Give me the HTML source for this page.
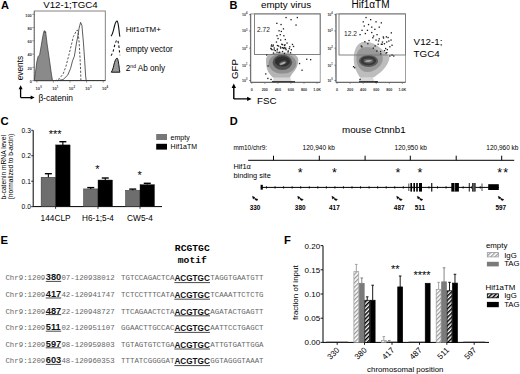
<!DOCTYPE html>
<html><head><meta charset="utf-8"><style>
html,body{margin:0;padding:0;background:#fff;}
svg{display:block;}
</style></head><body>
<svg width="520" height="374" viewBox="0 0 520 374">
<defs>
<pattern id="hatchL" patternUnits="userSpaceOnUse" width="3" height="3" patternTransform="rotate(45)">
<rect width="3" height="3" fill="#fff"/><rect width="1.3" height="3" fill="#999"/></pattern>
<pattern id="hatchD" patternUnits="userSpaceOnUse" width="3" height="3" patternTransform="rotate(45)">
<rect width="3" height="3" fill="#fff"/><rect width="1.5" height="3" fill="#000"/></pattern>
<filter id="bl" x="-20%" y="-20%" width="140%" height="140%"><feGaussianBlur stdDeviation="0.75"/></filter>
<radialGradient id="rg1" cx="0.52" cy="0.42" r="0.55">
<stop offset="0" stop-color="#888"/><stop offset="0.12" stop-color="#333"/><stop offset="0.35" stop-color="#555"/><stop offset="0.7" stop-color="#999"/><stop offset="1" stop-color="#ddd"/></radialGradient>
<radialGradient id="rg2" cx="0.42" cy="0.48" r="0.6">
<stop offset="0" stop-color="#888"/><stop offset="0.12" stop-color="#333"/><stop offset="0.35" stop-color="#555"/><stop offset="0.7" stop-color="#aaa"/><stop offset="1" stop-color="#ddd"/></radialGradient>
</defs>
<rect width="520" height="374" fill="#fff"/>
<text x="0.9" y="8.9" font-size="11" font-weight="bold" fill="#000" text-anchor="start" style='font-family:"Liberation Sans", sans-serif' >A</text>
<text x="43.2" y="7.9" font-size="9.7" font-weight="normal" fill="#000" text-anchor="start" style='font-family:"Liberation Sans", sans-serif' >V12-1;TGC4</text>
<rect x="34.3" y="11" width="71" height="69.6" fill="none" stroke="#777" stroke-width="0.9"/>
<line x1="34.3" y1="80.6" x2="105.3" y2="80.6" stroke="#333" stroke-width="1" />
<line x1="34.3" y1="11" x2="34.3" y2="80.6" stroke="#777" stroke-width="0.9" />
<line x1="32.3" y1="80.6" x2="34.3" y2="80.6" stroke="#555" stroke-width="0.6" />
<text x="31.8" y="82.89999999999999" font-size="3.9" font-weight="bold" fill="#333" text-anchor="end" style='font-family:"Liberation Sans", sans-serif' >0</text>
<line x1="32.3" y1="67.33999999999999" x2="34.3" y2="67.33999999999999" stroke="#555" stroke-width="0.6" />
<text x="31.8" y="69.63999999999999" font-size="3.9" font-weight="bold" fill="#333" text-anchor="end" style='font-family:"Liberation Sans", sans-serif' >20</text>
<line x1="32.3" y1="54.08" x2="34.3" y2="54.08" stroke="#555" stroke-width="0.6" />
<text x="31.8" y="56.379999999999995" font-size="3.9" font-weight="bold" fill="#333" text-anchor="end" style='font-family:"Liberation Sans", sans-serif' >40</text>
<line x1="32.3" y1="40.81999999999999" x2="34.3" y2="40.81999999999999" stroke="#555" stroke-width="0.6" />
<text x="31.8" y="43.11999999999999" font-size="3.9" font-weight="bold" fill="#333" text-anchor="end" style='font-family:"Liberation Sans", sans-serif' >60</text>
<line x1="32.3" y1="27.559999999999995" x2="34.3" y2="27.559999999999995" stroke="#555" stroke-width="0.6" />
<text x="31.8" y="29.859999999999996" font-size="3.9" font-weight="bold" fill="#333" text-anchor="end" style='font-family:"Liberation Sans", sans-serif' >80</text>
<line x1="32.3" y1="14.299999999999997" x2="34.3" y2="14.299999999999997" stroke="#555" stroke-width="0.6" />
<text x="31.8" y="16.599999999999998" font-size="3.9" font-weight="bold" fill="#333" text-anchor="end" style='font-family:"Liberation Sans", sans-serif' >100</text>
<line x1="33.4" y1="80.6" x2="34.3" y2="80.6" stroke="#888" stroke-width="0.4" />
<line x1="33.4" y1="77.948" x2="34.3" y2="77.948" stroke="#888" stroke-width="0.4" />
<line x1="33.4" y1="75.29599999999999" x2="34.3" y2="75.29599999999999" stroke="#888" stroke-width="0.4" />
<line x1="33.4" y1="72.64399999999999" x2="34.3" y2="72.64399999999999" stroke="#888" stroke-width="0.4" />
<line x1="33.4" y1="69.99199999999999" x2="34.3" y2="69.99199999999999" stroke="#888" stroke-width="0.4" />
<line x1="33.4" y1="67.33999999999999" x2="34.3" y2="67.33999999999999" stroke="#888" stroke-width="0.4" />
<line x1="33.4" y1="64.68799999999999" x2="34.3" y2="64.68799999999999" stroke="#888" stroke-width="0.4" />
<line x1="33.4" y1="62.035999999999994" x2="34.3" y2="62.035999999999994" stroke="#888" stroke-width="0.4" />
<line x1="33.4" y1="59.38399999999999" x2="34.3" y2="59.38399999999999" stroke="#888" stroke-width="0.4" />
<line x1="33.4" y1="56.73199999999999" x2="34.3" y2="56.73199999999999" stroke="#888" stroke-width="0.4" />
<line x1="33.4" y1="54.07999999999999" x2="34.3" y2="54.07999999999999" stroke="#888" stroke-width="0.4" />
<line x1="33.4" y1="51.428" x2="34.3" y2="51.428" stroke="#888" stroke-width="0.4" />
<line x1="33.4" y1="48.775999999999996" x2="34.3" y2="48.775999999999996" stroke="#888" stroke-width="0.4" />
<line x1="33.4" y1="46.123999999999995" x2="34.3" y2="46.123999999999995" stroke="#888" stroke-width="0.4" />
<line x1="33.4" y1="43.471999999999994" x2="34.3" y2="43.471999999999994" stroke="#888" stroke-width="0.4" />
<line x1="33.4" y1="40.81999999999999" x2="34.3" y2="40.81999999999999" stroke="#888" stroke-width="0.4" />
<line x1="33.4" y1="38.16799999999999" x2="34.3" y2="38.16799999999999" stroke="#888" stroke-width="0.4" />
<line x1="33.4" y1="35.51599999999999" x2="34.3" y2="35.51599999999999" stroke="#888" stroke-width="0.4" />
<line x1="33.4" y1="32.86399999999999" x2="34.3" y2="32.86399999999999" stroke="#888" stroke-width="0.4" />
<line x1="33.4" y1="30.21199999999999" x2="34.3" y2="30.21199999999999" stroke="#888" stroke-width="0.4" />
<line x1="33.4" y1="27.559999999999988" x2="34.3" y2="27.559999999999988" stroke="#888" stroke-width="0.4" />
<line x1="33.4" y1="24.907999999999994" x2="34.3" y2="24.907999999999994" stroke="#888" stroke-width="0.4" />
<line x1="33.4" y1="22.255999999999993" x2="34.3" y2="22.255999999999993" stroke="#888" stroke-width="0.4" />
<line x1="33.4" y1="19.603999999999992" x2="34.3" y2="19.603999999999992" stroke="#888" stroke-width="0.4" />
<line x1="33.4" y1="16.95199999999999" x2="34.3" y2="16.95199999999999" stroke="#888" stroke-width="0.4" />
<line x1="33.4" y1="14.299999999999997" x2="34.3" y2="14.299999999999997" stroke="#888" stroke-width="0.4" />
<line x1="36.8" y1="80.6" x2="36.8" y2="82.6" stroke="#555" stroke-width="0.6" />
<text x="37.8" y="90.0" font-size="4.0" font-weight="bold" fill="#333" text-anchor="middle" style='font-family:"Liberation Sans", sans-serif' >10</text>
<text x="40.199999999999996" y="87.9" font-size="2.8" font-weight="bold" fill="#333" text-anchor="start" style='font-family:"Liberation Sans", sans-serif' >0</text>
<line x1="53.4" y1="80.6" x2="53.4" y2="82.6" stroke="#555" stroke-width="0.6" />
<text x="54.4" y="90.0" font-size="4.0" font-weight="bold" fill="#333" text-anchor="middle" style='font-family:"Liberation Sans", sans-serif' >10</text>
<text x="56.8" y="87.9" font-size="2.8" font-weight="bold" fill="#333" text-anchor="start" style='font-family:"Liberation Sans", sans-serif' >1</text>
<line x1="70.0" y1="80.6" x2="70.0" y2="82.6" stroke="#555" stroke-width="0.6" />
<text x="71.0" y="90.0" font-size="4.0" font-weight="bold" fill="#333" text-anchor="middle" style='font-family:"Liberation Sans", sans-serif' >10</text>
<text x="73.4" y="87.9" font-size="2.8" font-weight="bold" fill="#333" text-anchor="start" style='font-family:"Liberation Sans", sans-serif' >2</text>
<line x1="86.6" y1="80.6" x2="86.6" y2="82.6" stroke="#555" stroke-width="0.6" />
<text x="87.6" y="90.0" font-size="4.0" font-weight="bold" fill="#333" text-anchor="middle" style='font-family:"Liberation Sans", sans-serif' >10</text>
<text x="90.0" y="87.9" font-size="2.8" font-weight="bold" fill="#333" text-anchor="start" style='font-family:"Liberation Sans", sans-serif' >3</text>
<line x1="103.2" y1="80.6" x2="103.2" y2="82.6" stroke="#555" stroke-width="0.6" />
<text x="104.2" y="90.0" font-size="4.0" font-weight="bold" fill="#333" text-anchor="middle" style='font-family:"Liberation Sans", sans-serif' >10</text>
<text x="106.60000000000001" y="87.9" font-size="2.8" font-weight="bold" fill="#333" text-anchor="start" style='font-family:"Liberation Sans", sans-serif' >4</text>
<polygon points="34.3,80.6 35.5,72.0 36.8,62.0 38.1,56.5 39.6,55.0 41.0,47.0 42.5,38.0 43.6,32.5 44.3,30.6 45.1,33.0 45.6,31.4 47.1,44.0 49.3,59.0 51.4,74.0 52.5,80.6" fill="#8a8a8a" stroke="#333" stroke-width="0.7"/>
<polyline points="54.6,80.6 55.6,80.6 59.4,78.7 63.1,74.0 65.9,66.5 68.8,55.3 71.6,44.0 73.4,36.5 75.9,31.8 77.2,29.9 78.1,32.7 79.1,42.1 80.0,57.1 80.6,70.2 80.9,80.6" fill="none" stroke="#444" stroke-width="0.9" stroke-dasharray="2.2,1.6"/>
<polyline points="56.7,80.6 57.5,80.6 63.1,79.6 67.8,75.0 70.6,68.4 72.5,60.9 74.4,56.2 76.3,44.0 78.1,34.6 79.1,28.1 80.6,22.4 81.9,25.3 83.4,42.1 84.7,60.9 85.6,75.9 86.2,80.6" fill="none" stroke="#333" stroke-width="0.8"/>
<path d="M111,36.2 C113,34 113.5,30 114.5,26 C115.3,23 116.3,21 117.1,21 C118,21.5 118.4,25 119,30 C119.3,33.5 119.6,35.5 119.9,36.7" fill="none" stroke="#111" stroke-width="1.1"/>
<path d="M111,55.7 C113,53 113.5,50 114.5,46 C115.3,43 116.3,40 117.3,40 C118.2,40.5 118.6,44 119.1,48 C119.4,51 119.6,53 119.9,55.2" fill="none" stroke="#111" stroke-width="1.1" stroke-dasharray="2.4,2.2"/>
<path d="M111.3,72.2 C113,70 113.5,66 114.5,62.5 C115.3,60 116.3,58.1 117.1,58.1 C118,58.6 118.4,62 119,66 C119.3,69 119.6,71 119.9,72.2 Z" fill="#999" stroke="#111" stroke-width="1"/>
<text x="125.8" y="32.1" font-size="8.0" font-weight="normal" fill="#000" text-anchor="start" style='font-family:"Liberation Sans", sans-serif' >Hif1αTM+</text>
<text x="125.8" y="51.5" font-size="8.2" font-weight="normal" fill="#000" text-anchor="start" style='font-family:"Liberation Sans", sans-serif' >empty vector</text>
<text x="125.8" y="70.8" font-size="8.2" font-weight="normal" fill="#000" text-anchor="start" style='font-family:"Liberation Sans", sans-serif' >2<tspan font-size="5" dy="-3">nd</tspan><tspan dy="3"> Ab only</tspan></text>
<text x="0" y="0" font-size="8.3" font-weight="normal" fill="#000" text-anchor="start" style='font-family:"Liberation Sans", sans-serif' transform="translate(22.6,80.3) rotate(-90)">events</text>
<path d="M20.6,97.6 L20.6,88.5 M20.6,97.6 L31.5,97.6" stroke="#000" stroke-width="1.3" fill="none"/>
<path d="M20.6,85.3 L18.6,89.3 L22.6,89.3 Z" fill="#000"/>
<path d="M34.6,97.6 L30.6,95.6 L30.6,99.6 Z" fill="#000"/>
<text x="38.4" y="100.9" font-size="8.4" font-weight="normal" fill="#000" text-anchor="start" style='font-family:"Liberation Sans", sans-serif' >β-catenin</text>
<text x="229.5" y="9.3" font-size="11" font-weight="bold" fill="#000" text-anchor="start" style='font-family:"Liberation Sans", sans-serif' >B</text>
<text x="261.0" y="8.3" font-size="9.8" font-weight="normal" fill="#000" text-anchor="start" style='font-family:"Liberation Sans", sans-serif' >empty virus</text>
<text x="351.5" y="8.3" font-size="10.0" font-weight="normal" fill="#000" text-anchor="start" style='font-family:"Liberation Sans", sans-serif' >Hif1αTM</text>
<rect x="250.7" y="13.9" width="69.5" height="68.39999999999999" fill="none" stroke="#888" stroke-width="0.8"/>
<line x1="250.7" y1="82.3" x2="320.2" y2="82.3" stroke="#444" stroke-width="0.8" />
<line x1="250.7" y1="13.9" x2="250.7" y2="82.3" stroke="#555" stroke-width="0.8" />

<path d="M273,76 L290,76 C290,79 291.5,81 293,82 L272,82 C273.5,80 274,78 273,76 Z" fill="#d8d8d8"/>
<g filter="url(#bl)">
<path d="M266,60 C266,54.5 272,52.6 282,52.6 C292,52.6 298.3,55 298.3,60 C298.3,65 296,70 292,74 C291,75.5 290.5,76.5 290,77.5 L273,77.5 C270,75 267,71 266.4,66 C266.2,64 266,62 266,60 Z" fill="#b4b4b4"/>
<ellipse cx="282.4" cy="63.6" rx="13.9" ry="10.0" fill="#8f8f8f"/>
<ellipse cx="282.4" cy="62.4" rx="9.8" ry="7.6" fill="#505050"/>
<ellipse cx="282.5" cy="61.4" rx="7.6" ry="5.2" fill="#2e2e2e"/>
<ellipse cx="282.7" cy="63.0" rx="4.2" ry="2.0" fill="#555" transform="rotate(-22 282.7 63.0)"/>
<ellipse cx="282.7" cy="63.3" rx="3.0" ry="0.9" fill="#b0b0b0" transform="rotate(-22 282.7 63.3)"/>
</g>
<line x1="272" y1="81.7" x2="295" y2="81.7" stroke="#222" stroke-width="1.1"/>
<rect x="254.5" y="13.9" width="65.69999999999999" height="40.6" fill="none" stroke="#777" stroke-width="0.9"/>
<line x1="249.1" y1="80.5" x2="250.7" y2="80.5" stroke="#555" stroke-width="0.7" />
<text x="242.1" y="81.9" font-size="3.5" font-weight="bold" fill="#333" text-anchor="start" style='font-family:"Liberation Sans", sans-serif' >10</text>
<text x="245.89999999999998" y="80.1" font-size="2.6" font-weight="bold" fill="#333" text-anchor="start" style='font-family:"Liberation Sans", sans-serif' >0</text>
<line x1="249.79999999999998" y1="75.8942410663411" x2="250.7" y2="75.8942410663411" stroke="#777" stroke-width="0.5" />
<line x1="249.79999999999998" y1="73.20004480278917" x2="250.7" y2="73.20004480278917" stroke="#777" stroke-width="0.5" />
<line x1="249.79999999999998" y1="71.28848213268218" x2="250.7" y2="71.28848213268218" stroke="#777" stroke-width="0.5" />
<line x1="249.79999999999998" y1="69.80575893365891" x2="250.7" y2="69.80575893365891" stroke="#777" stroke-width="0.5" />
<line x1="249.79999999999998" y1="68.59428586913026" x2="250.7" y2="68.59428586913026" stroke="#777" stroke-width="0.5" />
<line x1="249.79999999999998" y1="67.56999998778187" x2="250.7" y2="67.56999998778187" stroke="#777" stroke-width="0.5" />
<line x1="249.79999999999998" y1="66.68272319902327" x2="250.7" y2="66.68272319902327" stroke="#777" stroke-width="0.5" />
<line x1="249.79999999999998" y1="65.90008960557833" x2="250.7" y2="65.90008960557833" stroke="#777" stroke-width="0.5" />
<line x1="249.1" y1="65.2" x2="250.7" y2="65.2" stroke="#555" stroke-width="0.7" />
<text x="242.1" y="66.60000000000001" font-size="3.5" font-weight="bold" fill="#333" text-anchor="start" style='font-family:"Liberation Sans", sans-serif' >10</text>
<text x="245.89999999999998" y="64.8" font-size="2.6" font-weight="bold" fill="#333" text-anchor="start" style='font-family:"Liberation Sans", sans-serif' >1</text>
<line x1="249.79999999999998" y1="60.052387074145926" x2="250.7" y2="60.052387074145926" stroke="#777" stroke-width="0.5" />
<line x1="249.79999999999998" y1="57.04122654429378" x2="250.7" y2="57.04122654429378" stroke="#777" stroke-width="0.5" />
<line x1="249.79999999999998" y1="54.90477414829184" x2="250.7" y2="54.90477414829184" stroke="#777" stroke-width="0.5" />
<line x1="249.79999999999998" y1="53.24761292585408" x2="250.7" y2="53.24761292585408" stroke="#777" stroke-width="0.5" />
<line x1="249.79999999999998" y1="51.893613618439694" x2="250.7" y2="51.893613618439694" stroke="#777" stroke-width="0.5" />
<line x1="249.79999999999998" y1="50.748823515756214" x2="250.7" y2="50.748823515756214" stroke="#777" stroke-width="0.5" />
<line x1="249.79999999999998" y1="49.757161222437766" x2="250.7" y2="49.757161222437766" stroke="#777" stroke-width="0.5" />
<line x1="249.79999999999998" y1="48.882453088587546" x2="250.7" y2="48.882453088587546" stroke="#777" stroke-width="0.5" />
<line x1="249.1" y1="48.1" x2="250.7" y2="48.1" stroke="#555" stroke-width="0.7" />
<text x="242.1" y="49.5" font-size="3.5" font-weight="bold" fill="#333" text-anchor="start" style='font-family:"Liberation Sans", sans-serif' >10</text>
<text x="245.89999999999998" y="47.7" font-size="2.6" font-weight="bold" fill="#333" text-anchor="start" style='font-family:"Liberation Sans", sans-serif' >2</text>
<line x1="249.79999999999998" y1="42.92228407457952" x2="250.7" y2="42.92228407457952" stroke="#777" stroke-width="0.5" />
<line x1="249.79999999999998" y1="39.89351441882181" x2="250.7" y2="39.89351441882181" stroke="#777" stroke-width="0.5" />
<line x1="249.79999999999998" y1="37.74456814915905" x2="250.7" y2="37.74456814915905" stroke="#777" stroke-width="0.5" />
<line x1="249.79999999999998" y1="36.07771592542048" x2="250.7" y2="36.07771592542048" stroke="#777" stroke-width="0.5" />
<line x1="249.79999999999998" y1="34.71579849340133" x2="250.7" y2="34.71579849340133" stroke="#777" stroke-width="0.5" />
<line x1="249.79999999999998" y1="33.56431371175478" x2="250.7" y2="33.56431371175478" stroke="#777" stroke-width="0.5" />
<line x1="249.79999999999998" y1="32.56685222373857" x2="250.7" y2="32.56685222373857" stroke="#777" stroke-width="0.5" />
<line x1="249.79999999999998" y1="31.68702883764361" x2="250.7" y2="31.68702883764361" stroke="#777" stroke-width="0.5" />
<line x1="249.1" y1="30.9" x2="250.7" y2="30.9" stroke="#555" stroke-width="0.7" />
<text x="242.1" y="32.3" font-size="3.5" font-weight="bold" fill="#333" text-anchor="start" style='font-family:"Liberation Sans", sans-serif' >10</text>
<text x="245.89999999999998" y="30.5" font-size="2.6" font-weight="bold" fill="#333" text-anchor="start" style='font-family:"Liberation Sans", sans-serif' >3</text>
<line x1="249.79999999999998" y1="25.993211070677106" x2="250.7" y2="25.993211070677106" stroke="#777" stroke-width="0.5" />
<line x1="249.79999999999998" y1="23.1229235480695" x2="250.7" y2="23.1229235480695" stroke="#777" stroke-width="0.5" />
<line x1="249.79999999999998" y1="21.086422141354213" x2="250.7" y2="21.086422141354213" stroke="#777" stroke-width="0.5" />
<line x1="249.79999999999998" y1="19.506788929322894" x2="250.7" y2="19.506788929322894" stroke="#777" stroke-width="0.5" />
<line x1="249.79999999999998" y1="18.216134618746608" x2="250.7" y2="18.216134618746608" stroke="#777" stroke-width="0.5" />
<line x1="249.79999999999998" y1="17.124901947767615" x2="250.7" y2="17.124901947767615" stroke="#777" stroke-width="0.5" />
<line x1="249.79999999999998" y1="16.17963321203132" x2="250.7" y2="16.17963321203132" stroke="#777" stroke-width="0.5" />
<line x1="249.79999999999998" y1="15.345847096139005" x2="250.7" y2="15.345847096139005" stroke="#777" stroke-width="0.5" />
<line x1="249.1" y1="14.6" x2="250.7" y2="14.6" stroke="#555" stroke-width="0.7" />
<text x="242.1" y="16.0" font-size="3.5" font-weight="bold" fill="#333" text-anchor="start" style='font-family:"Liberation Sans", sans-serif' >10</text>
<text x="245.89999999999998" y="14.2" font-size="2.6" font-weight="bold" fill="#333" text-anchor="start" style='font-family:"Liberation Sans", sans-serif' >4</text>
<line x1="251.79999999999998" y1="82.3" x2="251.79999999999998" y2="84" stroke="#666" stroke-width="0.6" />
<line x1="254.41" y1="82.3" x2="254.41" y2="83.1" stroke="#888" stroke-width="0.4" />
<line x1="257.02" y1="82.3" x2="257.02" y2="83.1" stroke="#888" stroke-width="0.4" />
<line x1="259.63" y1="82.3" x2="259.63" y2="83.1" stroke="#888" stroke-width="0.4" />
<line x1="262.24" y1="82.3" x2="262.24" y2="83.1" stroke="#888" stroke-width="0.4" />
<text x="251.79999999999998" y="91.4" font-size="3.7" font-weight="bold" fill="#333" text-anchor="middle" style='font-family:"Liberation Sans", sans-serif' >0</text>
<line x1="264.84999999999997" y1="82.3" x2="264.84999999999997" y2="84" stroke="#666" stroke-width="0.6" />
<line x1="267.46" y1="82.3" x2="267.46" y2="83.1" stroke="#888" stroke-width="0.4" />
<line x1="270.07" y1="82.3" x2="270.07" y2="83.1" stroke="#888" stroke-width="0.4" />
<line x1="272.67999999999995" y1="82.3" x2="272.67999999999995" y2="83.1" stroke="#888" stroke-width="0.4" />
<line x1="275.28999999999996" y1="82.3" x2="275.28999999999996" y2="83.1" stroke="#888" stroke-width="0.4" />
<text x="264.84999999999997" y="91.4" font-size="3.7" font-weight="bold" fill="#333" text-anchor="middle" style='font-family:"Liberation Sans", sans-serif' >200</text>
<line x1="277.9" y1="82.3" x2="277.9" y2="84" stroke="#666" stroke-width="0.6" />
<line x1="280.51" y1="82.3" x2="280.51" y2="83.1" stroke="#888" stroke-width="0.4" />
<line x1="283.12" y1="82.3" x2="283.12" y2="83.1" stroke="#888" stroke-width="0.4" />
<line x1="285.72999999999996" y1="82.3" x2="285.72999999999996" y2="83.1" stroke="#888" stroke-width="0.4" />
<line x1="288.34" y1="82.3" x2="288.34" y2="83.1" stroke="#888" stroke-width="0.4" />
<text x="277.9" y="91.4" font-size="3.7" font-weight="bold" fill="#333" text-anchor="middle" style='font-family:"Liberation Sans", sans-serif' >400</text>
<line x1="290.95" y1="82.3" x2="290.95" y2="84" stroke="#666" stroke-width="0.6" />
<line x1="293.56" y1="82.3" x2="293.56" y2="83.1" stroke="#888" stroke-width="0.4" />
<line x1="296.17" y1="82.3" x2="296.17" y2="83.1" stroke="#888" stroke-width="0.4" />
<line x1="298.78" y1="82.3" x2="298.78" y2="83.1" stroke="#888" stroke-width="0.4" />
<line x1="301.39" y1="82.3" x2="301.39" y2="83.1" stroke="#888" stroke-width="0.4" />
<text x="290.95" y="91.4" font-size="3.7" font-weight="bold" fill="#333" text-anchor="middle" style='font-family:"Liberation Sans", sans-serif' >600</text>
<line x1="304.0" y1="82.3" x2="304.0" y2="84" stroke="#666" stroke-width="0.6" />
<line x1="306.61" y1="82.3" x2="306.61" y2="83.1" stroke="#888" stroke-width="0.4" />
<line x1="309.22" y1="82.3" x2="309.22" y2="83.1" stroke="#888" stroke-width="0.4" />
<line x1="311.83" y1="82.3" x2="311.83" y2="83.1" stroke="#888" stroke-width="0.4" />
<line x1="314.44" y1="82.3" x2="314.44" y2="83.1" stroke="#888" stroke-width="0.4" />
<text x="304.0" y="91.4" font-size="3.7" font-weight="bold" fill="#333" text-anchor="middle" style='font-family:"Liberation Sans", sans-serif' >800</text>
<line x1="317.04999999999995" y1="82.3" x2="317.04999999999995" y2="84" stroke="#666" stroke-width="0.6" />
<text x="317.04999999999995" y="91.4" font-size="3.7" font-weight="bold" fill="#333" text-anchor="middle" style='font-family:"Liberation Sans", sans-serif' >1.0K</text>
<text x="257.1" y="31.9" font-size="6.6" font-weight="normal" fill="#222" text-anchor="start" style='font-family:"Liberation Sans", sans-serif' >2.72</text>
<rect x="336.0" y="13.9" width="69.5" height="68.39999999999999" fill="none" stroke="#888" stroke-width="0.8"/>
<line x1="336.0" y1="82.3" x2="405.5" y2="82.3" stroke="#444" stroke-width="0.8" />
<line x1="336.0" y1="13.9" x2="336.0" y2="82.3" stroke="#555" stroke-width="0.8" />

<path d="M360,76 L373,76 C373,79 374,81 375,82 L358,82 C359.5,80 360.5,78 360,76 Z" fill="#d8d8d8"/>
<g filter="url(#bl)">
<path d="M353.8,60 C353.5,50 357,42.5 364,41.8 C370,41.5 376,44 381,48.5 C385,52 388,55 389.5,57.5 C389,62 386.5,66 383,70 C380,73 376.5,75.5 374,77.2 L359.8,77.2 C356.5,72 354,67 353.8,60 Z" fill="#bdbdbd"/>
<path d="M356.5,56 C357,50 361,47 367,47 C373,47 378,50 382,55 C384,58 382.5,63 379.5,66.5 C376,70 372,72 367,72 C361,72 357,66 356.5,60 Z" fill="#999"/>
<ellipse cx="368.5" cy="61" rx="9.6" ry="6.0" fill="#5a5a5a"/>
<ellipse cx="368.3" cy="60.7" rx="7.8" ry="4.5" fill="#383838"/>
<ellipse cx="368.5" cy="61" rx="5.0" ry="2.4" fill="#5e5e5e"/>
<ellipse cx="368.5" cy="61" rx="3.4" ry="0.9" fill="#a8a8a8" transform="rotate(-8 368.5 61)"/>
</g>
<line x1="359" y1="81.7" x2="378" y2="81.7" stroke="#222" stroke-width="1.1"/>
<rect x="339.0" y="13.9" width="66.5" height="41.1" fill="none" stroke="#777" stroke-width="0.9"/>
<line x1="334.4" y1="80.5" x2="336.0" y2="80.5" stroke="#555" stroke-width="0.7" />
<text x="327.4" y="81.9" font-size="3.5" font-weight="bold" fill="#333" text-anchor="start" style='font-family:"Liberation Sans", sans-serif' >10</text>
<text x="331.2" y="80.1" font-size="2.6" font-weight="bold" fill="#333" text-anchor="start" style='font-family:"Liberation Sans", sans-serif' >0</text>
<line x1="335.1" y1="75.8942410663411" x2="336.0" y2="75.8942410663411" stroke="#777" stroke-width="0.5" />
<line x1="335.1" y1="73.20004480278917" x2="336.0" y2="73.20004480278917" stroke="#777" stroke-width="0.5" />
<line x1="335.1" y1="71.28848213268218" x2="336.0" y2="71.28848213268218" stroke="#777" stroke-width="0.5" />
<line x1="335.1" y1="69.80575893365891" x2="336.0" y2="69.80575893365891" stroke="#777" stroke-width="0.5" />
<line x1="335.1" y1="68.59428586913026" x2="336.0" y2="68.59428586913026" stroke="#777" stroke-width="0.5" />
<line x1="335.1" y1="67.56999998778187" x2="336.0" y2="67.56999998778187" stroke="#777" stroke-width="0.5" />
<line x1="335.1" y1="66.68272319902327" x2="336.0" y2="66.68272319902327" stroke="#777" stroke-width="0.5" />
<line x1="335.1" y1="65.90008960557833" x2="336.0" y2="65.90008960557833" stroke="#777" stroke-width="0.5" />
<line x1="334.4" y1="65.2" x2="336.0" y2="65.2" stroke="#555" stroke-width="0.7" />
<text x="327.4" y="66.60000000000001" font-size="3.5" font-weight="bold" fill="#333" text-anchor="start" style='font-family:"Liberation Sans", sans-serif' >10</text>
<text x="331.2" y="64.8" font-size="2.6" font-weight="bold" fill="#333" text-anchor="start" style='font-family:"Liberation Sans", sans-serif' >1</text>
<line x1="335.1" y1="60.052387074145926" x2="336.0" y2="60.052387074145926" stroke="#777" stroke-width="0.5" />
<line x1="335.1" y1="57.04122654429378" x2="336.0" y2="57.04122654429378" stroke="#777" stroke-width="0.5" />
<line x1="335.1" y1="54.90477414829184" x2="336.0" y2="54.90477414829184" stroke="#777" stroke-width="0.5" />
<line x1="335.1" y1="53.24761292585408" x2="336.0" y2="53.24761292585408" stroke="#777" stroke-width="0.5" />
<line x1="335.1" y1="51.893613618439694" x2="336.0" y2="51.893613618439694" stroke="#777" stroke-width="0.5" />
<line x1="335.1" y1="50.748823515756214" x2="336.0" y2="50.748823515756214" stroke="#777" stroke-width="0.5" />
<line x1="335.1" y1="49.757161222437766" x2="336.0" y2="49.757161222437766" stroke="#777" stroke-width="0.5" />
<line x1="335.1" y1="48.882453088587546" x2="336.0" y2="48.882453088587546" stroke="#777" stroke-width="0.5" />
<line x1="334.4" y1="48.1" x2="336.0" y2="48.1" stroke="#555" stroke-width="0.7" />
<text x="327.4" y="49.5" font-size="3.5" font-weight="bold" fill="#333" text-anchor="start" style='font-family:"Liberation Sans", sans-serif' >10</text>
<text x="331.2" y="47.7" font-size="2.6" font-weight="bold" fill="#333" text-anchor="start" style='font-family:"Liberation Sans", sans-serif' >2</text>
<line x1="335.1" y1="42.92228407457952" x2="336.0" y2="42.92228407457952" stroke="#777" stroke-width="0.5" />
<line x1="335.1" y1="39.89351441882181" x2="336.0" y2="39.89351441882181" stroke="#777" stroke-width="0.5" />
<line x1="335.1" y1="37.74456814915905" x2="336.0" y2="37.74456814915905" stroke="#777" stroke-width="0.5" />
<line x1="335.1" y1="36.07771592542048" x2="336.0" y2="36.07771592542048" stroke="#777" stroke-width="0.5" />
<line x1="335.1" y1="34.71579849340133" x2="336.0" y2="34.71579849340133" stroke="#777" stroke-width="0.5" />
<line x1="335.1" y1="33.56431371175478" x2="336.0" y2="33.56431371175478" stroke="#777" stroke-width="0.5" />
<line x1="335.1" y1="32.56685222373857" x2="336.0" y2="32.56685222373857" stroke="#777" stroke-width="0.5" />
<line x1="335.1" y1="31.68702883764361" x2="336.0" y2="31.68702883764361" stroke="#777" stroke-width="0.5" />
<line x1="334.4" y1="30.9" x2="336.0" y2="30.9" stroke="#555" stroke-width="0.7" />
<text x="327.4" y="32.3" font-size="3.5" font-weight="bold" fill="#333" text-anchor="start" style='font-family:"Liberation Sans", sans-serif' >10</text>
<text x="331.2" y="30.5" font-size="2.6" font-weight="bold" fill="#333" text-anchor="start" style='font-family:"Liberation Sans", sans-serif' >3</text>
<line x1="335.1" y1="25.993211070677106" x2="336.0" y2="25.993211070677106" stroke="#777" stroke-width="0.5" />
<line x1="335.1" y1="23.1229235480695" x2="336.0" y2="23.1229235480695" stroke="#777" stroke-width="0.5" />
<line x1="335.1" y1="21.086422141354213" x2="336.0" y2="21.086422141354213" stroke="#777" stroke-width="0.5" />
<line x1="335.1" y1="19.506788929322894" x2="336.0" y2="19.506788929322894" stroke="#777" stroke-width="0.5" />
<line x1="335.1" y1="18.216134618746608" x2="336.0" y2="18.216134618746608" stroke="#777" stroke-width="0.5" />
<line x1="335.1" y1="17.124901947767615" x2="336.0" y2="17.124901947767615" stroke="#777" stroke-width="0.5" />
<line x1="335.1" y1="16.17963321203132" x2="336.0" y2="16.17963321203132" stroke="#777" stroke-width="0.5" />
<line x1="335.1" y1="15.345847096139005" x2="336.0" y2="15.345847096139005" stroke="#777" stroke-width="0.5" />
<line x1="334.4" y1="14.6" x2="336.0" y2="14.6" stroke="#555" stroke-width="0.7" />
<text x="327.4" y="16.0" font-size="3.5" font-weight="bold" fill="#333" text-anchor="start" style='font-family:"Liberation Sans", sans-serif' >10</text>
<text x="331.2" y="14.2" font-size="2.6" font-weight="bold" fill="#333" text-anchor="start" style='font-family:"Liberation Sans", sans-serif' >4</text>
<line x1="337.1" y1="82.3" x2="337.1" y2="84" stroke="#666" stroke-width="0.6" />
<line x1="339.71000000000004" y1="82.3" x2="339.71000000000004" y2="83.1" stroke="#888" stroke-width="0.4" />
<line x1="342.32000000000005" y1="82.3" x2="342.32000000000005" y2="83.1" stroke="#888" stroke-width="0.4" />
<line x1="344.93" y1="82.3" x2="344.93" y2="83.1" stroke="#888" stroke-width="0.4" />
<line x1="347.54" y1="82.3" x2="347.54" y2="83.1" stroke="#888" stroke-width="0.4" />
<text x="337.1" y="91.4" font-size="3.7" font-weight="bold" fill="#333" text-anchor="middle" style='font-family:"Liberation Sans", sans-serif' >0</text>
<line x1="350.15000000000003" y1="82.3" x2="350.15000000000003" y2="84" stroke="#666" stroke-width="0.6" />
<line x1="352.76000000000005" y1="82.3" x2="352.76000000000005" y2="83.1" stroke="#888" stroke-width="0.4" />
<line x1="355.37000000000006" y1="82.3" x2="355.37000000000006" y2="83.1" stroke="#888" stroke-width="0.4" />
<line x1="357.98" y1="82.3" x2="357.98" y2="83.1" stroke="#888" stroke-width="0.4" />
<line x1="360.59000000000003" y1="82.3" x2="360.59000000000003" y2="83.1" stroke="#888" stroke-width="0.4" />
<text x="350.15000000000003" y="91.4" font-size="3.7" font-weight="bold" fill="#333" text-anchor="middle" style='font-family:"Liberation Sans", sans-serif' >200</text>
<line x1="363.20000000000005" y1="82.3" x2="363.20000000000005" y2="84" stroke="#666" stroke-width="0.6" />
<line x1="365.81000000000006" y1="82.3" x2="365.81000000000006" y2="83.1" stroke="#888" stroke-width="0.4" />
<line x1="368.4200000000001" y1="82.3" x2="368.4200000000001" y2="83.1" stroke="#888" stroke-width="0.4" />
<line x1="371.03000000000003" y1="82.3" x2="371.03000000000003" y2="83.1" stroke="#888" stroke-width="0.4" />
<line x1="373.64000000000004" y1="82.3" x2="373.64000000000004" y2="83.1" stroke="#888" stroke-width="0.4" />
<text x="363.20000000000005" y="91.4" font-size="3.7" font-weight="bold" fill="#333" text-anchor="middle" style='font-family:"Liberation Sans", sans-serif' >400</text>
<line x1="376.25" y1="82.3" x2="376.25" y2="84" stroke="#666" stroke-width="0.6" />
<line x1="378.86" y1="82.3" x2="378.86" y2="83.1" stroke="#888" stroke-width="0.4" />
<line x1="381.47" y1="82.3" x2="381.47" y2="83.1" stroke="#888" stroke-width="0.4" />
<line x1="384.08" y1="82.3" x2="384.08" y2="83.1" stroke="#888" stroke-width="0.4" />
<line x1="386.69" y1="82.3" x2="386.69" y2="83.1" stroke="#888" stroke-width="0.4" />
<text x="376.25" y="91.4" font-size="3.7" font-weight="bold" fill="#333" text-anchor="middle" style='font-family:"Liberation Sans", sans-serif' >600</text>
<line x1="389.3" y1="82.3" x2="389.3" y2="84" stroke="#666" stroke-width="0.6" />
<line x1="391.91" y1="82.3" x2="391.91" y2="83.1" stroke="#888" stroke-width="0.4" />
<line x1="394.52000000000004" y1="82.3" x2="394.52000000000004" y2="83.1" stroke="#888" stroke-width="0.4" />
<line x1="397.13" y1="82.3" x2="397.13" y2="83.1" stroke="#888" stroke-width="0.4" />
<line x1="399.74" y1="82.3" x2="399.74" y2="83.1" stroke="#888" stroke-width="0.4" />
<text x="389.3" y="91.4" font-size="3.7" font-weight="bold" fill="#333" text-anchor="middle" style='font-family:"Liberation Sans", sans-serif' >800</text>
<line x1="402.35" y1="82.3" x2="402.35" y2="84" stroke="#666" stroke-width="0.6" />
<text x="402.35" y="91.4" font-size="3.7" font-weight="bold" fill="#333" text-anchor="middle" style='font-family:"Liberation Sans", sans-serif' >1.0K</text>
<text x="344.1" y="36.0" font-size="6.6" font-weight="normal" fill="#222" text-anchor="start" style='font-family:"Liberation Sans", sans-serif' >12.2</text>
<rect x="285.4" y="16.9" width="1.3" height="1.3" fill="#1a1a1a"/>
<rect x="290.4" y="19.0" width="1.3" height="1.3" fill="#1a1a1a"/>
<rect x="296.7" y="16.9" width="1.3" height="1.3" fill="#1a1a1a"/>
<rect x="295.4" y="24.4" width="1.3" height="1.3" fill="#1a1a1a"/>
<rect x="276.2" y="22.7" width="1.3" height="1.3" fill="#1a1a1a"/>
<rect x="280.4" y="23.9" width="1.3" height="1.3" fill="#1a1a1a"/>
<rect x="278.4" y="30.1" width="1.3" height="1.3" fill="#1a1a1a"/>
<rect x="280.7" y="30.8" width="1.3" height="1.3" fill="#1a1a1a"/>
<rect x="282.8" y="28.2" width="1.3" height="1.3" fill="#1a1a1a"/>
<rect x="276.4" y="35.1" width="1.3" height="1.3" fill="#1a1a1a"/>
<rect x="279.6" y="34.0" width="1.3" height="1.3" fill="#1a1a1a"/>
<rect x="283.2" y="35.1" width="1.3" height="1.3" fill="#1a1a1a"/>
<rect x="284.7" y="38.9" width="1.3" height="1.3" fill="#1a1a1a"/>
<rect x="280.0" y="39.4" width="1.3" height="1.3" fill="#1a1a1a"/>
<rect x="275.8" y="41.4" width="1.3" height="1.3" fill="#1a1a1a"/>
<rect x="286.4" y="42.4" width="1.3" height="1.3" fill="#1a1a1a"/>
<rect x="281.1" y="43.6" width="1.3" height="1.3" fill="#1a1a1a"/>
<rect x="277.9" y="45.4" width="1.3" height="1.3" fill="#1a1a1a"/>
<rect x="273.6" y="47.4" width="1.3" height="1.3" fill="#1a1a1a"/>
<rect x="276.8" y="48.4" width="1.3" height="1.3" fill="#1a1a1a"/>
<rect x="280.0" y="47.4" width="1.3" height="1.3" fill="#1a1a1a"/>
<rect x="283.2" y="47.9" width="1.3" height="1.3" fill="#1a1a1a"/>
<rect x="285.4" y="49.0" width="1.3" height="1.3" fill="#1a1a1a"/>
<rect x="288.6" y="47.9" width="1.3" height="1.3" fill="#1a1a1a"/>
<rect x="290.7" y="49.1" width="1.3" height="1.3" fill="#1a1a1a"/>
<rect x="271.4" y="49.0" width="1.3" height="1.3" fill="#1a1a1a"/>
<rect x="274.7" y="50.0" width="1.3" height="1.3" fill="#1a1a1a"/>
<rect x="292.9" y="45.8" width="1.3" height="1.3" fill="#1a1a1a"/>
<rect x="281.9" y="50.9" width="1.3" height="1.3" fill="#1a1a1a"/>
<rect x="278.4" y="51.9" width="1.3" height="1.3" fill="#1a1a1a"/>
<rect x="287.4" y="51.4" width="1.3" height="1.3" fill="#1a1a1a"/>
<rect x="272.9" y="52.4" width="1.3" height="1.3" fill="#1a1a1a"/>
<rect x="283.9" y="44.9" width="1.3" height="1.3" fill="#1a1a1a"/>
<rect x="277.4" y="37.9" width="1.3" height="1.3" fill="#1a1a1a"/>
<rect x="289.9" y="52.1" width="1.3" height="1.3" fill="#1a1a1a"/>
<rect x="306.1" y="58.6" width="1.3" height="1.3" fill="#1a1a1a"/>
<rect x="310.0" y="59.0" width="1.3" height="1.3" fill="#1a1a1a"/>
<rect x="301.4" y="69.6" width="1.3" height="1.3" fill="#1a1a1a"/>
<rect x="266.1" y="54.4" width="1.3" height="1.3" fill="#1a1a1a"/>
<rect x="265.1" y="73.3" width="1.3" height="1.3" fill="#1a1a1a"/>
<rect x="267.2" y="77.8" width="1.3" height="1.3" fill="#1a1a1a"/>
<rect x="270.4" y="78.8" width="1.3" height="1.3" fill="#1a1a1a"/>
<rect x="298.9" y="62.9" width="1.3" height="1.3" fill="#1a1a1a"/>
<rect x="267.4" y="65.3" width="1.3" height="1.3" fill="#1a1a1a"/>
<rect x="362.6" y="21.2" width="1.3" height="1.3" fill="#1a1a1a"/>
<rect x="370.0" y="19.0" width="1.3" height="1.3" fill="#1a1a1a"/>
<rect x="375.4" y="21.2" width="1.3" height="1.3" fill="#1a1a1a"/>
<rect x="380.7" y="22.2" width="1.3" height="1.3" fill="#1a1a1a"/>
<rect x="363.6" y="25.4" width="1.3" height="1.3" fill="#1a1a1a"/>
<rect x="367.9" y="23.9" width="1.3" height="1.3" fill="#1a1a1a"/>
<rect x="371.1" y="26.5" width="1.3" height="1.3" fill="#1a1a1a"/>
<rect x="361.4" y="29.7" width="1.3" height="1.3" fill="#1a1a1a"/>
<rect x="366.8" y="29.7" width="1.3" height="1.3" fill="#1a1a1a"/>
<rect x="374.2" y="28.7" width="1.3" height="1.3" fill="#1a1a1a"/>
<rect x="378.6" y="26.5" width="1.3" height="1.3" fill="#1a1a1a"/>
<rect x="359.4" y="34.0" width="1.3" height="1.3" fill="#1a1a1a"/>
<rect x="364.7" y="32.9" width="1.3" height="1.3" fill="#1a1a1a"/>
<rect x="371.1" y="31.9" width="1.3" height="1.3" fill="#1a1a1a"/>
<rect x="376.4" y="34.0" width="1.3" height="1.3" fill="#1a1a1a"/>
<rect x="372.2" y="37.1" width="1.3" height="1.3" fill="#1a1a1a"/>
<rect x="375.4" y="39.4" width="1.3" height="1.3" fill="#1a1a1a"/>
<rect x="378.6" y="38.2" width="1.3" height="1.3" fill="#1a1a1a"/>
<rect x="381.8" y="41.4" width="1.3" height="1.3" fill="#1a1a1a"/>
<rect x="377.5" y="43.6" width="1.3" height="1.3" fill="#1a1a1a"/>
<rect x="380.7" y="43.6" width="1.3" height="1.3" fill="#1a1a1a"/>
<rect x="386.1" y="41.4" width="1.3" height="1.3" fill="#1a1a1a"/>
<rect x="388.2" y="40.4" width="1.3" height="1.3" fill="#1a1a1a"/>
<rect x="390.4" y="39.4" width="1.3" height="1.3" fill="#1a1a1a"/>
<rect x="385.0" y="47.9" width="1.3" height="1.3" fill="#1a1a1a"/>
<rect x="383.9" y="50.0" width="1.3" height="1.3" fill="#1a1a1a"/>
<rect x="386.7" y="49.0" width="1.3" height="1.3" fill="#1a1a1a"/>
<rect x="389.2" y="46.1" width="1.3" height="1.3" fill="#1a1a1a"/>
<rect x="391.4" y="44.6" width="1.3" height="1.3" fill="#1a1a1a"/>
<rect x="389.2" y="55.4" width="1.3" height="1.3" fill="#1a1a1a"/>
<rect x="391.4" y="54.4" width="1.3" height="1.3" fill="#1a1a1a"/>
<rect x="393.1" y="55.4" width="1.3" height="1.3" fill="#1a1a1a"/>
<rect x="352.9" y="66.0" width="1.3" height="1.3" fill="#1a1a1a"/>
<rect x="354.0" y="67.1" width="1.3" height="1.3" fill="#1a1a1a"/>
<rect x="359.4" y="78.8" width="1.3" height="1.3" fill="#1a1a1a"/>
<rect x="375.4" y="81.3" width="1.3" height="1.3" fill="#1a1a1a"/>
<rect x="365.4" y="16.9" width="1.3" height="1.3" fill="#1a1a1a"/>
<rect x="372.9" y="35.4" width="1.3" height="1.3" fill="#1a1a1a"/>
<rect x="368.4" y="39.9" width="1.3" height="1.3" fill="#1a1a1a"/>
<rect x="382.9" y="37.4" width="1.3" height="1.3" fill="#1a1a1a"/>
<rect x="385.4" y="52.4" width="1.3" height="1.3" fill="#1a1a1a"/>
<rect x="379.9" y="50.9" width="1.3" height="1.3" fill="#1a1a1a"/>
<rect x="276.8" y="44.9" width="1.3" height="1.3" fill="#1a1a1a"/>
<rect x="284.3" y="44.1" width="1.3" height="1.3" fill="#1a1a1a"/>
<rect x="281.7" y="47.0" width="1.3" height="1.3" fill="#1a1a1a"/>
<rect x="270.7" y="48.4" width="1.3" height="1.3" fill="#1a1a1a"/>
<rect x="270.2" y="47.7" width="1.3" height="1.3" fill="#1a1a1a"/>
<rect x="271.0" y="44.3" width="1.3" height="1.3" fill="#1a1a1a"/>
<rect x="279.1" y="51.6" width="1.3" height="1.3" fill="#1a1a1a"/>
<rect x="272.2" y="45.6" width="1.3" height="1.3" fill="#1a1a1a"/>
<rect x="283.8" y="52.8" width="1.3" height="1.3" fill="#1a1a1a"/>
<rect x="282.6" y="47.3" width="1.3" height="1.3" fill="#1a1a1a"/>
<rect x="291.8" y="43.8" width="1.3" height="1.3" fill="#1a1a1a"/>
<rect x="289.1" y="46.2" width="1.3" height="1.3" fill="#1a1a1a"/>
<rect x="272.7" y="44.5" width="1.3" height="1.3" fill="#1a1a1a"/>
<rect x="276.4" y="51.5" width="1.3" height="1.3" fill="#1a1a1a"/>
<rect x="273.5" y="49.2" width="1.3" height="1.3" fill="#1a1a1a"/>
<rect x="284.0" y="47.1" width="1.3" height="1.3" fill="#1a1a1a"/>
<rect x="281.9" y="44.0" width="1.3" height="1.3" fill="#1a1a1a"/>
<rect x="270.7" y="45.4" width="1.3" height="1.3" fill="#1a1a1a"/>
<rect x="285.0" y="47.6" width="1.3" height="1.3" fill="#1a1a1a"/>
<rect x="276.6" y="49.2" width="1.3" height="1.3" fill="#1a1a1a"/>
<rect x="279.8" y="46.3" width="1.3" height="1.3" fill="#1a1a1a"/>
<rect x="287.6" y="50.3" width="1.3" height="1.3" fill="#1a1a1a"/>
<rect x="367.2" y="43.1" width="1.3" height="1.3" fill="#1a1a1a"/>
<rect x="376.2" y="50.4" width="1.3" height="1.3" fill="#1a1a1a"/>
<rect x="382.7" y="36.3" width="1.3" height="1.3" fill="#1a1a1a"/>
<rect x="390.7" y="32.2" width="1.3" height="1.3" fill="#1a1a1a"/>
<rect x="372.7" y="47.5" width="1.3" height="1.3" fill="#1a1a1a"/>
<rect x="364.2" y="41.1" width="1.3" height="1.3" fill="#1a1a1a"/>
<rect x="360.6" y="45.4" width="1.3" height="1.3" fill="#1a1a1a"/>
<rect x="383.8" y="43.1" width="1.3" height="1.3" fill="#1a1a1a"/>
<rect x="387.4" y="36.9" width="1.3" height="1.3" fill="#1a1a1a"/>
<rect x="381.6" y="43.6" width="1.3" height="1.3" fill="#1a1a1a"/>
<rect x="377.9" y="40.3" width="1.3" height="1.3" fill="#1a1a1a"/>
<rect x="386.2" y="52.0" width="1.3" height="1.3" fill="#1a1a1a"/>
<rect x="374.5" y="45.3" width="1.3" height="1.3" fill="#1a1a1a"/>
<rect x="361.3" y="46.2" width="1.3" height="1.3" fill="#1a1a1a"/>
<rect x="380.1" y="53.2" width="1.3" height="1.3" fill="#1a1a1a"/>
<rect x="385.7" y="36.2" width="1.3" height="1.3" fill="#1a1a1a"/>
<text x="0" y="0" font-size="9.6" font-weight="normal" fill="#000" text-anchor="start" style='font-family:"Liberation Sans", sans-serif' transform="translate(238.1,78.9) rotate(-90)">GFP</text>
<path d="M233.8,98.9 L233.8,87 M233.8,98.9 L248,98.9" stroke="#000" stroke-width="1.4" fill="none"/>
<path d="M233.8,83.5 L231.6,88 L236,88 Z" fill="#000"/>
<path d="M251.6,98.9 L247.1,96.7 L247.1,101.1 Z" fill="#000"/>
<text x="257.0" y="103.7" font-size="9.8" font-weight="normal" fill="#000" text-anchor="start" style='font-family:"Liberation Sans", sans-serif' >FSC</text>
<text x="413.6" y="45.3" font-size="9.8" font-weight="normal" fill="#000" text-anchor="start" style='font-family:"Liberation Sans", sans-serif' >V12-1;</text>
<text x="413.6" y="56.9" font-size="9.8" font-weight="normal" fill="#000" text-anchor="start" style='font-family:"Liberation Sans", sans-serif' >TGC4</text>
<text x="0.6" y="125.4" font-size="11.3" font-weight="bold" fill="#000" text-anchor="start" style='font-family:"Liberation Sans", sans-serif' >C</text>
<line x1="33.2" y1="130.3" x2="33.2" y2="206.7" stroke="#000" stroke-width="1" />
<line x1="33.2" y1="206.6" x2="162" y2="206.6" stroke="#000" stroke-width="1" />
<line x1="31.2" y1="206.7" x2="33.2" y2="206.7" stroke="#000" stroke-width="0.8" />
<text x="30.9" y="209.1" font-size="6.7" font-weight="normal" fill="#000" text-anchor="end" style='font-family:"Liberation Sans", sans-serif' >0.0</text>
<line x1="31.2" y1="181.23" x2="33.2" y2="181.23" stroke="#000" stroke-width="0.8" />
<text x="30.9" y="183.63" font-size="6.7" font-weight="normal" fill="#000" text-anchor="end" style='font-family:"Liberation Sans", sans-serif' >0.1</text>
<line x1="31.2" y1="155.76" x2="33.2" y2="155.76" stroke="#000" stroke-width="0.8" />
<text x="30.9" y="158.16" font-size="6.7" font-weight="normal" fill="#000" text-anchor="end" style='font-family:"Liberation Sans", sans-serif' >0.2</text>
<line x1="31.2" y1="130.29" x2="33.2" y2="130.29" stroke="#000" stroke-width="0.8" />
<text x="30.9" y="132.69" font-size="6.7" font-weight="normal" fill="#000" text-anchor="end" style='font-family:"Liberation Sans", sans-serif' >0.3</text>
<line x1="55.6" y1="206.6" x2="55.6" y2="208.8" stroke="#000" stroke-width="0.8" />
<rect x="41.1" y="177.2" width="14.5" height="29.40" fill="#6e6e6e" stroke="#222" stroke-width="0.4"/>
<line x1="48.35" y1="177.2" x2="48.35" y2="173.7" stroke="#000" stroke-width="1.1" />
<line x1="44.85" y1="173.7" x2="51.85" y2="173.7" stroke="#000" stroke-width="1.4" />
<rect x="55.6" y="144.9" width="14.5" height="61.70" fill="#000" stroke="#222" stroke-width="0.4"/>
<line x1="62.85" y1="144.9" x2="62.85" y2="141.7" stroke="#000" stroke-width="1.1" />
<line x1="59.35" y1="141.7" x2="66.35" y2="141.7" stroke="#000" stroke-width="1.4" />
<line x1="98" y1="206.6" x2="98" y2="208.8" stroke="#000" stroke-width="0.8" />
<rect x="83.5" y="188.9" width="14.5" height="17.70" fill="#6e6e6e" stroke="#222" stroke-width="0.4"/>
<line x1="90.75" y1="188.9" x2="90.75" y2="187.6" stroke="#000" stroke-width="1.1" />
<line x1="87.25" y1="187.6" x2="94.25" y2="187.6" stroke="#000" stroke-width="1.4" />
<rect x="98" y="180.0" width="14.5" height="26.60" fill="#000" stroke="#222" stroke-width="0.4"/>
<line x1="105.25" y1="180.0" x2="105.25" y2="178.0" stroke="#000" stroke-width="1.1" />
<line x1="101.75" y1="178.0" x2="108.75" y2="178.0" stroke="#000" stroke-width="1.4" />
<line x1="140" y1="206.6" x2="140" y2="208.8" stroke="#000" stroke-width="0.8" />
<rect x="125.5" y="190.3" width="14.5" height="16.30" fill="#6e6e6e" stroke="#222" stroke-width="0.4"/>
<line x1="132.75" y1="190.3" x2="132.75" y2="189.1" stroke="#000" stroke-width="1.1" />
<line x1="129.25" y1="189.1" x2="136.25" y2="189.1" stroke="#000" stroke-width="1.4" />
<rect x="140" y="184.6" width="14.5" height="22.00" fill="#000" stroke="#222" stroke-width="0.4"/>
<line x1="147.25" y1="184.6" x2="147.25" y2="183.3" stroke="#000" stroke-width="1.1" />
<line x1="143.75" y1="183.3" x2="150.75" y2="183.3" stroke="#000" stroke-width="1.4" />
<text x="55.2" y="137.6" font-size="11" font-weight="normal" fill="#000" text-anchor="middle" style='font-family:"Liberation Sans", sans-serif' >***</text>
<text x="97.4" y="173.3" font-size="11" font-weight="normal" fill="#000" text-anchor="middle" style='font-family:"Liberation Sans", sans-serif' >*</text>
<text x="139.7" y="179.4" font-size="11" font-weight="normal" fill="#000" text-anchor="middle" style='font-family:"Liberation Sans", sans-serif' >*</text>
<text x="55.6" y="221.3" font-size="8.3" font-weight="normal" fill="#000" text-anchor="middle" style='font-family:"Liberation Sans", sans-serif' >144CLP</text>
<text x="98.0" y="221.3" font-size="8.2" font-weight="normal" fill="#000" text-anchor="middle" style='font-family:"Liberation Sans", sans-serif' >H6-1;5-4</text>
<text x="140.0" y="221.3" font-size="8.3" font-weight="normal" fill="#000" text-anchor="middle" style='font-family:"Liberation Sans", sans-serif' >CW5-4</text>
<rect x="156.2" y="134" width="10.8" height="6" fill="#777" />
<rect x="156.2" y="143.8" width="10.8" height="5.8" fill="#000" />
<text x="170.6" y="139.6" font-size="7.0" font-weight="normal" fill="#000" text-anchor="start" style='font-family:"Liberation Sans", sans-serif' >empty</text>
<text x="170.6" y="149.3" font-size="7.0" font-weight="normal" fill="#000" text-anchor="start" style='font-family:"Liberation Sans", sans-serif' >Hif1aTM</text>
<text x="0" y="0" font-size="6.7" font-weight="normal" fill="#000" text-anchor="start" style='font-family:"Liberation Sans", sans-serif' transform="translate(6.2,199.4) rotate(-90)">b-catenin mRNA level</text>
<text x="0" y="0" font-size="6.6" font-weight="normal" fill="#000" text-anchor="start" style='font-family:"Liberation Sans", sans-serif' transform="translate(12.9,199.4) rotate(-90)">(normalized to b-actin)</text>
<text x="229.8" y="124.8" font-size="11" font-weight="bold" fill="#000" text-anchor="start" style='font-family:"Liberation Sans", sans-serif' >D</text>
<text x="342.0" y="132.9" font-size="9.8" font-weight="normal" fill="#000" text-anchor="start" style='font-family:"Liberation Sans", sans-serif' >mouse Ctnnb1</text>
<text x="233.4" y="150.4" font-size="6.4" font-weight="normal" fill="#000" text-anchor="start" style='font-family:"Liberation Sans", sans-serif' >mm10/chr9:</text>
<text x="302.6" y="150.4" font-size="6.5" font-weight="normal" fill="#000" text-anchor="start" style='font-family:"Liberation Sans", sans-serif' >120,940 kb</text>
<text x="394.6" y="150.4" font-size="6.5" font-weight="normal" fill="#000" text-anchor="start" style='font-family:"Liberation Sans", sans-serif' >120,950 kb</text>
<text x="486.3" y="150.4" font-size="6.5" font-weight="normal" fill="#000" text-anchor="start" style='font-family:"Liberation Sans", sans-serif' >120,960 kb</text>
<line x1="248.2" y1="160.3" x2="514.2" y2="160.3" stroke="#000" stroke-width="1" />
<line x1="273.5" y1="155.7" x2="273.5" y2="160.3" stroke="#000" stroke-width="1" />
<line x1="319.3" y1="155.7" x2="319.3" y2="160.3" stroke="#000" stroke-width="1" />
<line x1="365.1" y1="155.7" x2="365.1" y2="160.3" stroke="#000" stroke-width="1" />
<line x1="410.3" y1="155.7" x2="410.3" y2="160.3" stroke="#000" stroke-width="1" />
<line x1="456.2" y1="155.7" x2="456.2" y2="160.3" stroke="#000" stroke-width="1" />
<line x1="501.7" y1="155.7" x2="501.7" y2="160.3" stroke="#000" stroke-width="1" />
<text x="233.4" y="168.6" font-size="7.4" font-weight="normal" fill="#000" text-anchor="start" style='font-family:"Liberation Sans", sans-serif' >Hif1α</text>
<text x="233.4" y="178.4" font-size="7.4" font-weight="normal" fill="#000" text-anchor="start" style='font-family:"Liberation Sans", sans-serif' >binding site</text>
<text x="300.3" y="176.7" font-size="12.5" font-weight="normal" fill="#000" text-anchor="middle" style='font-family:"Liberation Sans", sans-serif' >*</text>
<text x="334.5" y="176.7" font-size="12.5" font-weight="normal" fill="#000" text-anchor="middle" style='font-family:"Liberation Sans", sans-serif' >*</text>
<text x="398.0" y="176.7" font-size="12.5" font-weight="normal" fill="#000" text-anchor="middle" style='font-family:"Liberation Sans", sans-serif' >*</text>
<text x="420.0" y="176.7" font-size="12.5" font-weight="normal" fill="#000" text-anchor="middle" style='font-family:"Liberation Sans", sans-serif' >*</text>
<text x="499.6" y="176.7" font-size="12.5" font-weight="normal" fill="#000" text-anchor="middle" style='font-family:"Liberation Sans", sans-serif' >*</text>
<text x="505.8" y="176.7" font-size="12.5" font-weight="normal" fill="#000" text-anchor="middle" style='font-family:"Liberation Sans", sans-serif' >*</text>
<line x1="260.8" y1="187.4" x2="498.8" y2="187.4" stroke="#000" stroke-width="1" />
<rect x="260.6" y="184.8" width="2.2" height="4.9" fill="#000" />
<line x1="266.5" y1="186.2" x2="266.5" y2="188.6" stroke="#000" stroke-width="0.8" />
<line x1="275.05" y1="186.2" x2="275.05" y2="188.6" stroke="#000" stroke-width="0.8" />
<line x1="283.6" y1="186.2" x2="283.6" y2="188.6" stroke="#000" stroke-width="0.8" />
<line x1="292.15000000000003" y1="186.2" x2="292.15000000000003" y2="188.6" stroke="#000" stroke-width="0.8" />
<line x1="300.70000000000005" y1="186.2" x2="300.70000000000005" y2="188.6" stroke="#000" stroke-width="0.8" />
<line x1="309.25000000000006" y1="186.2" x2="309.25000000000006" y2="188.6" stroke="#000" stroke-width="0.8" />
<line x1="317.80000000000007" y1="186.2" x2="317.80000000000007" y2="188.6" stroke="#000" stroke-width="0.8" />
<line x1="326.3500000000001" y1="186.2" x2="326.3500000000001" y2="188.6" stroke="#000" stroke-width="0.8" />
<line x1="334.9000000000001" y1="186.2" x2="334.9000000000001" y2="188.6" stroke="#000" stroke-width="0.8" />
<line x1="343.4500000000001" y1="186.2" x2="343.4500000000001" y2="188.6" stroke="#000" stroke-width="0.8" />
<line x1="352.0000000000001" y1="186.2" x2="352.0000000000001" y2="188.6" stroke="#000" stroke-width="0.8" />
<line x1="360.5500000000001" y1="186.2" x2="360.5500000000001" y2="188.6" stroke="#000" stroke-width="0.8" />
<line x1="369.10000000000014" y1="186.2" x2="369.10000000000014" y2="188.6" stroke="#000" stroke-width="0.8" />
<line x1="377.65000000000015" y1="186.2" x2="377.65000000000015" y2="188.6" stroke="#000" stroke-width="0.8" />
<line x1="386.20000000000016" y1="186.2" x2="386.20000000000016" y2="188.6" stroke="#000" stroke-width="0.8" />
<line x1="394.75000000000017" y1="186.2" x2="394.75000000000017" y2="188.6" stroke="#000" stroke-width="0.8" />
<line x1="403.3000000000002" y1="186.2" x2="403.3000000000002" y2="188.6" stroke="#000" stroke-width="0.8" />
<line x1="411.8500000000002" y1="186.2" x2="411.8500000000002" y2="188.6" stroke="#000" stroke-width="0.8" />
<line x1="420.4000000000002" y1="186.2" x2="420.4000000000002" y2="188.6" stroke="#000" stroke-width="0.8" />
<line x1="428.9500000000002" y1="186.2" x2="428.9500000000002" y2="188.6" stroke="#000" stroke-width="0.8" />
<line x1="437.5000000000002" y1="186.2" x2="437.5000000000002" y2="188.6" stroke="#000" stroke-width="0.8" />
<line x1="446.05000000000024" y1="186.2" x2="446.05000000000024" y2="188.6" stroke="#000" stroke-width="0.8" />
<line x1="454.60000000000025" y1="186.2" x2="454.60000000000025" y2="188.6" stroke="#000" stroke-width="0.8" />
<line x1="463.15000000000026" y1="186.2" x2="463.15000000000026" y2="188.6" stroke="#000" stroke-width="0.8" />
<line x1="471.7000000000003" y1="186.2" x2="471.7000000000003" y2="188.6" stroke="#000" stroke-width="0.8" />
<line x1="480.2500000000003" y1="186.2" x2="480.2500000000003" y2="188.6" stroke="#000" stroke-width="0.8" />
<rect x="410.4" y="183.0" width="1.6000000000000227" height="8.6" fill="#000" />
<rect x="413.4" y="183.0" width="1.6000000000000227" height="8.6" fill="#000" />
<rect x="416.2" y="183.0" width="1.6000000000000227" height="8.6" fill="#000" />
<rect x="419" y="183.0" width="3" height="8.6" fill="#000" />
<line x1="408.8" y1="183.5" x2="408.8" y2="191" stroke="#000" stroke-width="0.7" />
<rect x="431.2" y="183.0" width="1.1" height="8.6" fill="#000" />
<rect x="451.3" y="183.0" width="7.6" height="8.6" fill="#000" />
<line x1="454.6" y1="183" x2="454.6" y2="191.6" stroke="#fff" stroke-width="0.5" />
<rect x="468.8" y="183.0" width="0.9" height="8.6" fill="#000" />
<rect x="472" y="183.0" width="3.7" height="8.6" fill="#333" />
<line x1="473.8" y1="183" x2="473.8" y2="191.6" stroke="#aaa" stroke-width="0.5" />
<line x1="482" y1="183.5" x2="482" y2="191" stroke="#000" stroke-width="0.7" />
<rect x="488.2" y="184.2" width="10.6" height="5.8" fill="#000" />
<path d="M252.5,196.3 L255.0,197.6 L253.2,199.0 Z" fill="#000" stroke="#000" stroke-width="0.5"/>
<path d="M254.7,198.3 L258.0,199.5 L256.9,200.6 L255.2,199.8 Z" fill="#000" stroke="#000" stroke-width="0.5"/>
<text x="255.0" y="209.7" font-size="6.4" font-weight="bold" fill="#000" text-anchor="middle" style='font-family:"Liberation Sans", sans-serif' >330</text>
<path d="M297.7,196.3 L300.2,197.6 L298.4,199.0 Z" fill="#000" stroke="#000" stroke-width="0.5"/>
<path d="M299.9,198.3 L303.2,199.5 L302.1,200.6 L300.4,199.8 Z" fill="#000" stroke="#000" stroke-width="0.5"/>
<text x="300.20000000000005" y="209.7" font-size="6.4" font-weight="bold" fill="#000" text-anchor="middle" style='font-family:"Liberation Sans", sans-serif' >380</text>
<path d="M331.9,196.3 L334.4,197.6 L332.6,199.0 Z" fill="#000" stroke="#000" stroke-width="0.5"/>
<path d="M334.1,198.3 L337.4,199.5 L336.3,200.6 L334.6,199.8 Z" fill="#000" stroke="#000" stroke-width="0.5"/>
<text x="334.40000000000003" y="209.7" font-size="6.4" font-weight="bold" fill="#000" text-anchor="middle" style='font-family:"Liberation Sans", sans-serif' >417</text>
<path d="M396.7,196.3 L399.2,197.6 L397.4,199.0 Z" fill="#000" stroke="#000" stroke-width="0.5"/>
<path d="M398.9,198.3 L402.2,199.5 L401.1,200.6 L399.4,199.8 Z" fill="#000" stroke="#000" stroke-width="0.5"/>
<text x="399.20000000000005" y="209.7" font-size="6.4" font-weight="bold" fill="#000" text-anchor="middle" style='font-family:"Liberation Sans", sans-serif' >487</text>
<path d="M417.3,196.3 L419.8,197.6 L418.0,199.0 Z" fill="#000" stroke="#000" stroke-width="0.5"/>
<path d="M419.5,198.3 L422.8,199.5 L421.7,200.6 L420.0,199.8 Z" fill="#000" stroke="#000" stroke-width="0.5"/>
<text x="419.8" y="209.7" font-size="6.4" font-weight="bold" fill="#000" text-anchor="middle" style='font-family:"Liberation Sans", sans-serif' >511</text>
<path d="M498.3,196.3 L500.8,197.6 L499.0,199.0 Z" fill="#000" stroke="#000" stroke-width="0.5"/>
<path d="M500.5,198.3 L503.8,199.5 L502.7,200.6 L501.0,199.8 Z" fill="#000" stroke="#000" stroke-width="0.5"/>
<text x="500.8" y="209.7" font-size="6.4" font-weight="bold" fill="#000" text-anchor="middle" style='font-family:"Liberation Sans", sans-serif' >597</text>
<text x="0.6" y="243.7" font-size="11.3" font-weight="bold" fill="#000" text-anchor="start" style='font-family:"Liberation Sans", sans-serif' >E</text>
<text x="192.3" y="251.3" font-size="9.7" font-weight="bold" fill="#000" text-anchor="middle" style='font-family:"Liberation Mono", monospace' >RCGTGC</text>
<text x="192.3" y="262.6" font-size="9.7" font-weight="bold" fill="#000" text-anchor="middle" style='font-family:"Liberation Mono", monospace' >motif</text>
<text x="5.4" y="280.4" font-size="7.4" font-weight="normal" fill="#666" text-anchor="start" style='font-family:"Liberation Mono", monospace' >Chr9:1209</text>
<text x="45.8" y="280.4" font-size="9.2" font-weight="bold" fill="#111" text-anchor="start" style='font-family:"Liberation Sans", sans-serif' >380</text>
<line x1="45.8" y1="281.4" x2="61.2" y2="281.4" stroke="#333" stroke-width="0.9" />
<text x="61.4" y="280.4" font-size="7.4" font-weight="normal" fill="#666" text-anchor="start" style='font-family:"Liberation Mono", monospace' >07-120938012</text>
<text x="121.1" y="280.4" font-size="7.4" font-weight="normal" fill="#666" text-anchor="start" style='font-family:"Liberation Mono", monospace' >TGTCCAGACTCA</text>
<text x="174.4" y="281.29999999999995" font-size="8.2" font-weight="bold" fill="#111" text-anchor="start" style='font-family:"Liberation Sans", sans-serif' >ACGTGC</text>
<line x1="174.4" y1="282.59999999999997" x2="210.0" y2="282.59999999999997" stroke="#333" stroke-width="0.9" />
<text x="210.3" y="280.4" font-size="7.4" font-weight="normal" fill="#666" text-anchor="start" style='font-family:"Liberation Mono", monospace' >TAGGTGAATGTT</text>
<text x="5.4" y="297.0" font-size="7.4" font-weight="normal" fill="#666" text-anchor="start" style='font-family:"Liberation Mono", monospace' >Chr9:1209</text>
<text x="45.8" y="297.0" font-size="9.2" font-weight="bold" fill="#111" text-anchor="start" style='font-family:"Liberation Sans", sans-serif' >417</text>
<line x1="45.8" y1="298.0" x2="61.2" y2="298.0" stroke="#333" stroke-width="0.9" />
<text x="61.4" y="297.0" font-size="7.4" font-weight="normal" fill="#666" text-anchor="start" style='font-family:"Liberation Mono", monospace' >42-120941747</text>
<text x="121.1" y="297.0" font-size="7.4" font-weight="normal" fill="#666" text-anchor="start" style='font-family:"Liberation Mono", monospace' >TCTCCTTTCATA</text>
<text x="174.4" y="297.9" font-size="8.2" font-weight="bold" fill="#111" text-anchor="start" style='font-family:"Liberation Sans", sans-serif' >ACGTGC</text>
<line x1="174.4" y1="299.2" x2="210.0" y2="299.2" stroke="#333" stroke-width="0.9" />
<text x="210.3" y="297.0" font-size="7.4" font-weight="normal" fill="#666" text-anchor="start" style='font-family:"Liberation Mono", monospace' >TCAAATTCTCTG</text>
<text x="5.4" y="313.59999999999997" font-size="7.4" font-weight="normal" fill="#666" text-anchor="start" style='font-family:"Liberation Mono", monospace' >Chr9:1209</text>
<text x="45.8" y="313.59999999999997" font-size="9.2" font-weight="bold" fill="#111" text-anchor="start" style='font-family:"Liberation Sans", sans-serif' >487</text>
<line x1="45.8" y1="314.59999999999997" x2="61.2" y2="314.59999999999997" stroke="#333" stroke-width="0.9" />
<text x="61.4" y="313.59999999999997" font-size="7.4" font-weight="normal" fill="#666" text-anchor="start" style='font-family:"Liberation Mono", monospace' >22-120948727</text>
<text x="121.1" y="313.59999999999997" font-size="7.4" font-weight="normal" fill="#666" text-anchor="start" style='font-family:"Liberation Mono", monospace' >TTCAGAACTCTA</text>
<text x="174.4" y="314.49999999999994" font-size="8.2" font-weight="bold" fill="#111" text-anchor="start" style='font-family:"Liberation Sans", sans-serif' >ACGTGC</text>
<line x1="174.4" y1="315.79999999999995" x2="210.0" y2="315.79999999999995" stroke="#333" stroke-width="0.9" />
<text x="210.3" y="313.59999999999997" font-size="7.4" font-weight="normal" fill="#666" text-anchor="start" style='font-family:"Liberation Mono", monospace' >AGATACTGAGTT</text>
<text x="5.4" y="330.2" font-size="7.4" font-weight="normal" fill="#666" text-anchor="start" style='font-family:"Liberation Mono", monospace' >Chr9:1209</text>
<text x="45.8" y="330.2" font-size="9.2" font-weight="bold" fill="#111" text-anchor="start" style='font-family:"Liberation Sans", sans-serif' >511</text>
<line x1="45.8" y1="331.2" x2="61.2" y2="331.2" stroke="#333" stroke-width="0.9" />
<text x="61.4" y="330.2" font-size="7.4" font-weight="normal" fill="#666" text-anchor="start" style='font-family:"Liberation Mono", monospace' >02-120951107</text>
<text x="121.1" y="330.2" font-size="7.4" font-weight="normal" fill="#666" text-anchor="start" style='font-family:"Liberation Mono", monospace' >GGAACTTGCCAC</text>
<text x="174.4" y="331.09999999999997" font-size="8.2" font-weight="bold" fill="#111" text-anchor="start" style='font-family:"Liberation Sans", sans-serif' >ACGTGC</text>
<line x1="174.4" y1="332.4" x2="210.0" y2="332.4" stroke="#333" stroke-width="0.9" />
<text x="210.3" y="330.2" font-size="7.4" font-weight="normal" fill="#666" text-anchor="start" style='font-family:"Liberation Mono", monospace' >AATTCCTGAGCT</text>
<text x="5.4" y="346.79999999999995" font-size="7.4" font-weight="normal" fill="#666" text-anchor="start" style='font-family:"Liberation Mono", monospace' >Chr9:1209</text>
<text x="45.8" y="346.79999999999995" font-size="9.2" font-weight="bold" fill="#111" text-anchor="start" style='font-family:"Liberation Sans", sans-serif' >597</text>
<line x1="45.8" y1="347.79999999999995" x2="61.2" y2="347.79999999999995" stroke="#333" stroke-width="0.9" />
<text x="61.4" y="346.79999999999995" font-size="7.4" font-weight="normal" fill="#666" text-anchor="start" style='font-family:"Liberation Mono", monospace' >98-120959803</text>
<text x="121.1" y="346.79999999999995" font-size="7.4" font-weight="normal" fill="#666" text-anchor="start" style='font-family:"Liberation Mono", monospace' >TGTAGTGTCTGA</text>
<text x="174.4" y="347.69999999999993" font-size="8.2" font-weight="bold" fill="#111" text-anchor="start" style='font-family:"Liberation Sans", sans-serif' >ACGTGC</text>
<line x1="174.4" y1="348.99999999999994" x2="210.0" y2="348.99999999999994" stroke="#333" stroke-width="0.9" />
<text x="210.3" y="346.79999999999995" font-size="7.4" font-weight="normal" fill="#666" text-anchor="start" style='font-family:"Liberation Mono", monospace' >ATTGTGATTGGA</text>
<text x="5.4" y="363.4" font-size="7.4" font-weight="normal" fill="#666" text-anchor="start" style='font-family:"Liberation Mono", monospace' >Chr9:1209</text>
<text x="45.8" y="363.4" font-size="9.2" font-weight="bold" fill="#111" text-anchor="start" style='font-family:"Liberation Sans", sans-serif' >603</text>
<line x1="45.8" y1="364.4" x2="61.2" y2="364.4" stroke="#333" stroke-width="0.9" />
<text x="61.4" y="363.4" font-size="7.4" font-weight="normal" fill="#666" text-anchor="start" style='font-family:"Liberation Mono", monospace' >48-120960353</text>
<text x="121.1" y="363.4" font-size="7.4" font-weight="normal" fill="#666" text-anchor="start" style='font-family:"Liberation Mono", monospace' >TTTATCGGGGAT</text>
<text x="174.4" y="364.29999999999995" font-size="8.2" font-weight="bold" fill="#111" text-anchor="start" style='font-family:"Liberation Sans", sans-serif' >ACGTGC</text>
<line x1="174.4" y1="365.59999999999997" x2="210.0" y2="365.59999999999997" stroke="#333" stroke-width="0.9" />
<text x="210.3" y="363.4" font-size="7.4" font-weight="normal" fill="#666" text-anchor="start" style='font-family:"Liberation Mono", monospace' >GGTAGGGTAAAT</text>
<text x="284.0" y="243.7" font-size="11.3" font-weight="bold" fill="#000" text-anchor="start" style='font-family:"Liberation Sans", sans-serif' >F</text>
<line x1="323" y1="245.7" x2="323" y2="342.4" stroke="#000" stroke-width="1" />
<line x1="323" y1="342.4" x2="489" y2="342.4" stroke="#000" stroke-width="1" />
<line x1="320.6" y1="342.4" x2="323" y2="342.4" stroke="#000" stroke-width="0.9" />
<text x="320.2" y="345.29999999999995" font-size="8.0" font-weight="normal" fill="#000" text-anchor="end" style='font-family:"Liberation Sans", sans-serif' >0.00</text>
<line x1="320.6" y1="318.2" x2="323" y2="318.2" stroke="#000" stroke-width="0.9" />
<text x="320.2" y="321.09999999999997" font-size="8.0" font-weight="normal" fill="#000" text-anchor="end" style='font-family:"Liberation Sans", sans-serif' >0.05</text>
<line x1="320.6" y1="294.0" x2="323" y2="294.0" stroke="#000" stroke-width="0.9" />
<text x="320.2" y="296.9" font-size="8.0" font-weight="normal" fill="#000" text-anchor="end" style='font-family:"Liberation Sans", sans-serif' >0.10</text>
<line x1="320.6" y1="269.79999999999995" x2="323" y2="269.79999999999995" stroke="#000" stroke-width="0.9" />
<text x="320.2" y="272.69999999999993" font-size="8.0" font-weight="normal" fill="#000" text-anchor="end" style='font-family:"Liberation Sans", sans-serif' >0.15</text>
<line x1="320.6" y1="245.59999999999997" x2="323" y2="245.59999999999997" stroke="#000" stroke-width="0.9" />
<text x="320.2" y="248.49999999999997" font-size="8.0" font-weight="normal" fill="#000" text-anchor="end" style='font-family:"Liberation Sans", sans-serif' >0.20</text>
<line x1="337.2" y1="342.4" x2="337.2" y2="344.8" stroke="#000" stroke-width="0.9" />
<line x1="326.3" y1="341.79999999999995" x2="331.75" y2="341.79999999999995" stroke="#555" stroke-width="0.6" />
<line x1="331.75" y1="341.79999999999995" x2="337.2" y2="341.79999999999995" stroke="#555" stroke-width="0.6" />
<line x1="337.2" y1="341.79999999999995" x2="342.65" y2="341.79999999999995" stroke="#555" stroke-width="0.6" />
<line x1="342.65000000000003" y1="341.79999999999995" x2="348.1" y2="341.79999999999995" stroke="#555" stroke-width="0.6" />
<text x="0" y="0" font-size="8.0" font-weight="normal" fill="#000" text-anchor="end" style='font-family:"Liberation Sans", sans-serif' transform="translate(340.0,350.6) rotate(-45)">330</text>
<line x1="364.5" y1="342.4" x2="364.5" y2="344.8" stroke="#000" stroke-width="0.9" />
<rect x="353.90" y="271.66" width="4.85" height="70.74" fill="url(#hatchL)" stroke="#999" stroke-width="0.7"/>
<line x1="356.32500000000005" y1="271.663" x2="356.32500000000005" y2="264.39549999999997" stroke="#999" stroke-width="0.9" />
<line x1="355.02500000000003" y1="264.39549999999997" x2="357.62500000000006" y2="264.39549999999997" stroke="#999" stroke-width="0.9" />
<rect x="359.35" y="283.29" width="4.85" height="59.11" fill="#7a7a7a" stroke="#7a7a7a" stroke-width="0.7"/>
<line x1="361.77500000000003" y1="283.291" x2="361.77500000000003" y2="277.9615" stroke="#777" stroke-width="0.9" />
<line x1="360.475" y1="277.9615" x2="363.07500000000005" y2="277.9615" stroke="#777" stroke-width="0.9" />
<rect x="364.80" y="300.25" width="4.85" height="42.15" fill="url(#hatchD)" stroke="#000" stroke-width="0.7"/>
<line x1="367.225" y1="300.2485" x2="367.225" y2="296.85699999999997" stroke="#000" stroke-width="0.9" />
<line x1="365.925" y1="296.85699999999997" x2="368.52500000000003" y2="296.85699999999997" stroke="#000" stroke-width="0.9" />
<rect x="370.25" y="300.25" width="4.85" height="42.15" fill="#000" stroke="#000" stroke-width="0.7"/>
<line x1="372.67500000000007" y1="300.2485" x2="372.67500000000007" y2="285.229" stroke="#000" stroke-width="0.9" />
<line x1="371.37500000000006" y1="285.229" x2="373.9750000000001" y2="285.229" stroke="#000" stroke-width="0.9" />
<text x="0" y="0" font-size="8.0" font-weight="normal" fill="#000" text-anchor="end" style='font-family:"Liberation Sans", sans-serif' transform="translate(367.3,350.6) rotate(-45)">380</text>
<line x1="392.0" y1="342.4" x2="392.0" y2="344.8" stroke="#000" stroke-width="0.9" />
<rect x="381.40" y="340.46" width="4.85" height="1.94" fill="url(#hatchL)" stroke="#999" stroke-width="0.7"/>
<line x1="383.82500000000005" y1="340.462" x2="383.82500000000005" y2="336.58599999999996" stroke="#999" stroke-width="0.9" />
<line x1="382.52500000000003" y1="336.58599999999996" x2="385.12500000000006" y2="336.58599999999996" stroke="#999" stroke-width="0.9" />
<line x1="386.55" y1="341.79999999999995" x2="392.0" y2="341.79999999999995" stroke="#555" stroke-width="0.6" />
<line x1="389.27500000000003" y1="341.431" x2="389.27500000000003" y2="340.462" stroke="#777" stroke-width="0.9" />
<line x1="387.975" y1="340.462" x2="390.57500000000005" y2="340.462" stroke="#777" stroke-width="0.9" />
<line x1="392.0" y1="341.79999999999995" x2="397.45" y2="341.79999999999995" stroke="#555" stroke-width="0.6" />
<rect x="397.75" y="286.92" width="4.85" height="55.48" fill="#000" stroke="#000" stroke-width="0.7"/>
<line x1="400.17500000000007" y1="286.92474999999996" x2="400.17500000000007" y2="276.02349999999996" stroke="#000" stroke-width="0.9" />
<line x1="398.87500000000006" y1="276.02349999999996" x2="401.4750000000001" y2="276.02349999999996" stroke="#000" stroke-width="0.9" />
<text x="0" y="0" font-size="8.0" font-weight="normal" fill="#000" text-anchor="end" style='font-family:"Liberation Sans", sans-serif' transform="translate(394.8,350.6) rotate(-45)">417</text>
<line x1="419.5" y1="342.4" x2="419.5" y2="344.8" stroke="#000" stroke-width="0.9" />
<line x1="408.6" y1="341.79999999999995" x2="414.05" y2="341.79999999999995" stroke="#555" stroke-width="0.6" />
<line x1="414.05" y1="341.79999999999995" x2="419.5" y2="341.79999999999995" stroke="#555" stroke-width="0.6" />
<line x1="419.5" y1="341.79999999999995" x2="424.95" y2="341.79999999999995" stroke="#555" stroke-width="0.6" />
<rect x="425.25" y="283.29" width="4.85" height="59.11" fill="#000" stroke="#000" stroke-width="0.7"/>
<text x="0" y="0" font-size="8.0" font-weight="normal" fill="#000" text-anchor="end" style='font-family:"Liberation Sans", sans-serif' transform="translate(422.3,350.6) rotate(-45)">487</text>
<line x1="446.8" y1="342.4" x2="446.8" y2="344.8" stroke="#000" stroke-width="0.9" />
<rect x="436.20" y="289.30" width="4.85" height="53.10" fill="url(#hatchL)" stroke="#999" stroke-width="0.7"/>
<line x1="438.62500000000006" y1="289.29879999999997" x2="438.62500000000006" y2="282.322" stroke="#999" stroke-width="0.9" />
<line x1="437.32500000000005" y1="282.322" x2="439.92500000000007" y2="282.322" stroke="#999" stroke-width="0.9" />
<rect x="441.65" y="281.84" width="4.85" height="60.56" fill="#7a7a7a" stroke="#7a7a7a" stroke-width="0.7"/>
<line x1="444.07500000000005" y1="281.8375" x2="444.07500000000005" y2="267.787" stroke="#777" stroke-width="0.9" />
<line x1="442.77500000000003" y1="267.787" x2="445.37500000000006" y2="267.787" stroke="#777" stroke-width="0.9" />
<rect x="447.10" y="290.80" width="4.85" height="51.60" fill="url(#hatchD)" stroke="#000" stroke-width="0.7"/>
<line x1="449.52500000000003" y1="290.80075" x2="449.52500000000003" y2="282.322" stroke="#000" stroke-width="0.9" />
<line x1="448.225" y1="282.322" x2="450.82500000000005" y2="282.322" stroke="#000" stroke-width="0.9" />
<rect x="452.55" y="283.10" width="4.85" height="59.30" fill="#000" stroke="#000" stroke-width="0.7"/>
<line x1="454.9750000000001" y1="283.0972" x2="454.9750000000001" y2="274.2793" stroke="#000" stroke-width="0.9" />
<line x1="453.67500000000007" y1="274.2793" x2="456.2750000000001" y2="274.2793" stroke="#000" stroke-width="0.9" />
<text x="0" y="0" font-size="8.0" font-weight="normal" fill="#000" text-anchor="end" style='font-family:"Liberation Sans", sans-serif' transform="translate(449.6,350.6) rotate(-45)">511</text>
<line x1="474.2" y1="342.4" x2="474.2" y2="344.8" stroke="#000" stroke-width="0.9" />
<line x1="463.3" y1="341.79999999999995" x2="468.75" y2="341.79999999999995" stroke="#555" stroke-width="0.6" />
<line x1="468.75" y1="341.79999999999995" x2="474.2" y2="341.79999999999995" stroke="#555" stroke-width="0.6" />
<line x1="474.2" y1="341.79999999999995" x2="479.65" y2="341.79999999999995" stroke="#555" stroke-width="0.6" />
<line x1="479.65000000000003" y1="341.79999999999995" x2="485.1" y2="341.79999999999995" stroke="#555" stroke-width="0.6" />
<text x="0" y="0" font-size="8.0" font-weight="normal" fill="#000" text-anchor="end" style='font-family:"Liberation Sans", sans-serif' transform="translate(477.0,350.6) rotate(-45)">597</text>
<text x="395.3" y="273.2" font-size="11" font-weight="normal" fill="#000" text-anchor="middle" style='font-family:"Liberation Sans", sans-serif' >**</text>
<text x="422.0" y="279.2" font-size="11" font-weight="normal" fill="#000" text-anchor="middle" style='font-family:"Liberation Sans", sans-serif' >****</text>
<text x="367.1" y="371.6" font-size="7.85" font-weight="normal" fill="#000" text-anchor="start" style='font-family:"Liberation Sans", sans-serif' >chromosomal position</text>
<text x="0" y="0" font-size="8.0" font-weight="normal" fill="#000" text-anchor="start" style='font-family:"Liberation Sans", sans-serif' transform="translate(298.4,320.0) rotate(-90)">fraction of input</text>
<text x="485.9" y="248.4" font-size="7.9" font-weight="normal" fill="#000" text-anchor="start" style='font-family:"Liberation Sans", sans-serif' >empty</text>
<rect x="487.3" y="252.6" width="11.2" height="4.3" fill="url(#hatchL)" stroke="#999" stroke-width="0.8"/>
<text x="504.2" y="257.6" font-size="7.8" font-weight="normal" fill="#000" text-anchor="start" style='font-family:"Liberation Sans", sans-serif' >IgG</text>
<rect x="486.9" y="261.8" width="11.9" height="4.6" fill="#7a7a7a" />
<text x="504.2" y="266.4" font-size="7.8" font-weight="normal" fill="#000" text-anchor="start" style='font-family:"Liberation Sans", sans-serif' >TAG</text>
<text x="485.5" y="289.9" font-size="7.9" font-weight="normal" fill="#000" text-anchor="start" style='font-family:"Liberation Sans", sans-serif' >Hif1aTM</text>
<rect x="487.3" y="293.8" width="11.2" height="4.0" fill="url(#hatchD)" stroke="#000" stroke-width="0.8"/>
<text x="504.2" y="297.5" font-size="7.8" font-weight="normal" fill="#000" text-anchor="start" style='font-family:"Liberation Sans", sans-serif' >IgG</text>
<rect x="486.9" y="301.9" width="11.9" height="5.3" fill="#000" />
<text x="504.2" y="307.3" font-size="7.8" font-weight="normal" fill="#000" text-anchor="start" style='font-family:"Liberation Sans", sans-serif' >TAG</text>
</svg>
</body></html>
